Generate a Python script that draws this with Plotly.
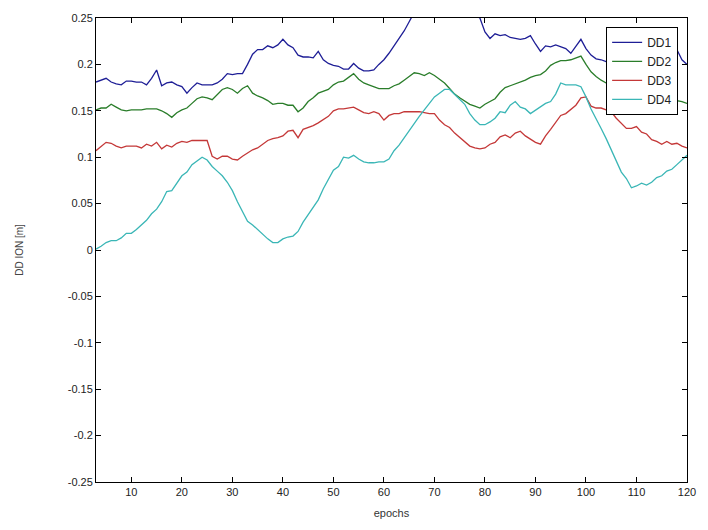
import plotly.graph_objects as go

epochs = list(range(3, 121))

dd1 = [0.181, 0.183, 0.185, 0.181, 0.179, 0.178, 0.182, 0.182, 0.181, 0.181,
       0.178, 0.185, 0.194, 0.177, 0.180, 0.181, 0.178, 0.176, 0.169, 0.175,
       0.180, 0.178, 0.178, 0.178, 0.180, 0.184, 0.190, 0.189, 0.190, 0.190,
       0.200, 0.211, 0.216, 0.216, 0.220, 0.218, 0.221, 0.227, 0.221, 0.218,
       0.210, 0.208, 0.208, 0.207, 0.214, 0.205, 0.201, 0.199, 0.198, 0.195,
       0.195, 0.201, 0.196, 0.193, 0.193, 0.194, 0.200, 0.205, 0.212, 0.220,
       0.228, 0.236, 0.246, 0.256, 0.262, 0.268, 0.270, 0.272, 0.270, 0.270,
       0.268, 0.266, 0.265, 0.262, 0.258, 0.253, 0.250, 0.235, 0.228, 0.233,
       0.231, 0.232, 0.229, 0.228, 0.227, 0.228, 0.231, 0.222, 0.214, 0.220,
       0.219, 0.221, 0.219, 0.217, 0.212, 0.220, 0.227, 0.217, 0.210, 0.206,
       0.205, 0.203, 0.200, 0.205, 0.208, 0.210, 0.212, 0.210, 0.212, 0.215,
       0.213, 0.215, 0.217, 0.215, 0.216, 0.216, 0.205, 0.200]

dd2 = [0.151, 0.153, 0.153, 0.157, 0.154, 0.151, 0.150, 0.151, 0.151, 0.151,
       0.152, 0.152, 0.152, 0.150, 0.147, 0.143, 0.148, 0.151, 0.153, 0.158,
       0.163, 0.165, 0.164, 0.162, 0.167, 0.173, 0.175, 0.173, 0.169, 0.174,
       0.177, 0.169, 0.166, 0.164, 0.161, 0.157, 0.158, 0.158, 0.156, 0.156,
       0.149, 0.153, 0.160, 0.164, 0.169, 0.171, 0.173, 0.178, 0.181, 0.182,
       0.186, 0.190, 0.184, 0.180, 0.178, 0.176, 0.174, 0.174, 0.174, 0.177,
       0.179, 0.183, 0.187, 0.191, 0.190, 0.188, 0.191, 0.188, 0.184, 0.180,
       0.174, 0.168, 0.164, 0.160, 0.157, 0.155, 0.153, 0.157, 0.160, 0.163,
       0.170, 0.175, 0.177, 0.179, 0.181, 0.183, 0.186, 0.188, 0.189, 0.193,
       0.199, 0.202, 0.204, 0.204, 0.205, 0.207, 0.209, 0.200, 0.192, 0.187,
       0.183, 0.180, 0.176, 0.174, 0.172, 0.170, 0.168, 0.168, 0.167, 0.166,
       0.165, 0.164, 0.163, 0.163, 0.162, 0.161, 0.160, 0.158]

dd3 = [0.107, 0.112, 0.116, 0.115, 0.112, 0.110, 0.112, 0.112, 0.112, 0.110,
       0.114, 0.112, 0.116, 0.109, 0.113, 0.111, 0.115, 0.117, 0.116, 0.118,
       0.118, 0.118, 0.118, 0.101, 0.098, 0.101, 0.101, 0.098, 0.097, 0.101,
       0.105, 0.108, 0.110, 0.114, 0.118, 0.120, 0.121, 0.123, 0.128, 0.129,
       0.121, 0.130, 0.132, 0.134, 0.137, 0.141, 0.144, 0.150, 0.152, 0.152,
       0.153, 0.154, 0.151, 0.148, 0.147, 0.149, 0.147, 0.140, 0.145, 0.147,
       0.147, 0.149, 0.149, 0.149, 0.149, 0.148, 0.147, 0.147, 0.140, 0.135,
       0.132, 0.126, 0.121, 0.117, 0.112, 0.110, 0.109, 0.110, 0.114, 0.116,
       0.122, 0.124, 0.121, 0.126, 0.128, 0.123, 0.119, 0.116, 0.114, 0.123,
       0.130, 0.137, 0.145, 0.147, 0.151, 0.156, 0.164, 0.165, 0.155, 0.153,
       0.153, 0.151, 0.149, 0.142, 0.137, 0.131, 0.131, 0.133, 0.127, 0.125,
       0.119, 0.117, 0.114, 0.117, 0.114, 0.115, 0.112, 0.110]

dd4 = [0.001, 0.004, 0.008, 0.010, 0.010, 0.013, 0.018, 0.018, 0.022, 0.027,
       0.032, 0.039, 0.044, 0.052, 0.063, 0.064, 0.072, 0.080, 0.084, 0.092,
       0.096, 0.100, 0.097, 0.090, 0.085, 0.080, 0.073, 0.064, 0.052, 0.042,
       0.031, 0.027, 0.022, 0.016, 0.012, 0.008, 0.008, 0.012, 0.014, 0.015,
       0.020, 0.030, 0.038, 0.046, 0.054, 0.066, 0.076, 0.086, 0.090, 0.100,
       0.099, 0.102, 0.098, 0.095, 0.094, 0.094, 0.095, 0.095, 0.098, 0.107,
       0.113, 0.121, 0.129, 0.136, 0.144, 0.151, 0.158, 0.165, 0.169, 0.173,
       0.173, 0.168, 0.163, 0.157, 0.147, 0.140, 0.135, 0.135, 0.138, 0.142,
       0.149, 0.148, 0.156, 0.160, 0.154, 0.152, 0.147, 0.151, 0.155, 0.158,
       0.160, 0.168, 0.180, 0.178, 0.178, 0.178, 0.176, 0.165, 0.152, 0.142,
       0.131, 0.120, 0.108, 0.095, 0.084, 0.077, 0.067, 0.069, 0.072, 0.070,
       0.073, 0.078, 0.080, 0.085, 0.087, 0.092, 0.097, 0.102]

series_names = ["DD1", "DD2", "DD3", "DD4"]
series_values = [dd1, dd2, dd3, dd4]
series_colors = ["#1e1e96", "#2a7d2a", "#c43838", "#3ab6b6"]

y_tickvals = [0.25, 0.2, 0.15, 0.1, 0.05, 0, -0.05, -0.1, -0.15, -0.2, -0.25]
y_ticktext = ["0.25", "0.2", "0.15", "0.1", "0.05", "0", "-0.05", "-0.1", "-0.15", "-0.2", "-0.25"]
x_tickvals = list(range(10, 121, 10))
x_ticktext = [str(v) for v in x_tickvals]

fig = go.Figure()
for name, vals, col in zip(series_names, series_values, series_colors):
    fig.add_trace(go.Scatter(x=epochs, y=vals, mode="lines", name=name,
                             line=dict(color=col, width=1.3)))

axis_common = dict(showline=True, linecolor="black", linewidth=1, mirror="ticks",
                   ticks="inside", ticklen=5, tickcolor="black", showgrid=False,
                   zeroline=False, tickfont=dict(family="Liberation Sans, Arial", size=11, color="#222"))

fig.update_layout(
    width=708, height=530,
    margin=dict(l=96, r=15, t=13, b=45),
    paper_bgcolor="white", plot_bgcolor="white",
    xaxis=dict(range=[3, 120], tickvals=x_tickvals, ticktext=x_ticktext,
               title=dict(text="epochs", font=dict(family="Liberation Sans, Arial", size=11, color="#333"), standoff=12),
               **axis_common),
    yaxis=dict(range=[-0.25, 0.25], tickvals=y_tickvals, ticktext=y_ticktext,
               title=dict(text="DD ION [m]", font=dict(family="Liberation Sans, Arial", size=10, color="#444"), standoff=42),
               **axis_common),
    legend=dict(x=0.985, y=0.981, xanchor="right", yanchor="top",
                bgcolor="white", bordercolor="black", borderwidth=1,
                font=dict(family="Liberation Sans, Arial", size=12, color="#222"),
                tracegroupgap=0, itemwidth=30),
    showlegend=True,
)

fig.write_html("out.html")
